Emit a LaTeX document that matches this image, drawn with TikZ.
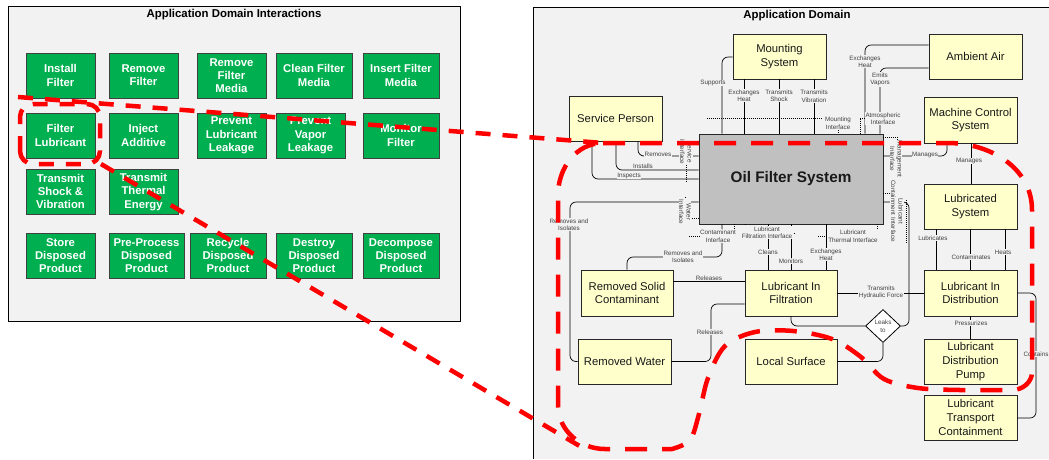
\documentclass[tikz,border=0pt]{standalone}
\usepackage{fontspec}
\setmainfont{Liberation Sans}
\usetikzlibrary{shapes.geometric}
\definecolor{panelbg}{HTML}{F2F2F2}
\definecolor{gfill}{HTML}{00B050}
\definecolor{yfill}{HTML}{FFFFCC}
\definecolor{ofsfill}{HTML}{C0C0C0}
\definecolor{lblgray}{HTML}{404040}
\begin{document}
\begin{tikzpicture}[x=1pt,y=-1pt,
  gbox/.style={draw=black!75, line width=0.9pt, fill=gfill, text=white, font=\fontsize{11.3}{13.3}\selectfont\bfseries, align=center, inner sep=0pt, minimum width=69pt, minimum height=45pt},
  ybox/.style={draw=black!85, line width=0.9pt, fill=yfill, text=black!90, font=\fontsize{11.3}{13.8}\selectfont, align=center, inner sep=0pt, minimum width=93pt, minimum height=45pt},
  conn/.style={draw=black, line width=0.7pt, rounded corners=6pt},
  dotl/.style={draw=black, line width=0.6pt, dash pattern=on 1pt off 1pt},
  lbl/.style={font=\fontsize{6.3}{7.5}\selectfont, text=lblgray, fill=panelbg, inner sep=0.5pt, align=center},
  rlbl/.style={lbl, rotate=-90},
  reddash/.style={draw=red, line width=4.5pt, dash pattern=on 15pt off 12pt},
  redloop/.style={draw=red, line width=4.5pt, dash pattern=on 22pt off 15pt},
  ttl/.style={font=\fontsize{11.4}{13}\selectfont\bfseries}
]
\useasboundingbox (0,0) rectangle (1049,459);
\fill[white] (0,0) rectangle (1049,459);
% left panel
\draw[black, line width=1pt, fill=panelbg] (8,6) rectangle (460,321);
\node[ttl] (t1) at (234,15) {Application Domain Interactions};
% right panel
\fill[panelbg] (533,7) rectangle (1049,459);
\draw[black, line width=1pt] (1049,7) -- (533,7) -- (533,459);
\node[ttl] (t2) at (797,16) {Application Domain};

% green boxes
\node[gbox] (g11) at (60.5,75.5) {Install\\Filter};
\node[gbox] (g12) at (143.5,75.5) {Remove\\Filter};
\node[gbox] (g13) at (231.5,75.5) {Remove\\Filter\\Media};
\node[gbox, minimum width=76pt] (g14) at (314,75.5) {Clean Filter\\Media};
\node[gbox, minimum width=76pt] (g15) at (401,75.5) {Insert Filter\\Media};
\node[gbox] (g21) at (60.5,135.5) {Filter\\Lubricant};
\node[gbox] (g22) at (143.5,135.5) {Inject\\Additive};
\node[gbox] (g23) at (231.5,135.5) {Prevent\\Lubricant\\Leakage};
\node[gbox] (g24) at (310.5,135.5) {Prevent\\Vapor\\Leakage};
\node[gbox, minimum width=76pt] (g25) at (401,135.5) {Monitor\\Filter};
\node[gbox] (g31) at (60.5,191.5) {Transmit\\Shock \&\\Vibration};
\node[gbox] (g32) at (143.5,192) {Transmit\\Thermal\\Energy};
\node[gbox] (g41) at (60.5,255.5) {Store\\Disposed\\Product};
\node[gbox, minimum width=75pt] (g42) at (146.5,255.5) {Pre-Process\\Disposed\\Product};
\node[gbox, minimum width=76pt] (g43) at (228,255.5) {Recycle\\Disposed\\Product};
\node[gbox, minimum width=76pt] (g44) at (314,255.5) {Destroy\\Disposed\\Product};
\node[gbox, minimum width=76pt] (g45) at (401,255.5) {Decompose\\Disposed\\Product};

% yellow boxes
\node[ybox] (MS) at (779.5,56.5) {Mounting\\System};
\node[ybox] (AA) at (975.5,56.5) {Ambient Air};
\node[ybox] (SP) at (615.5,118.5) {Service Person};
\node[ybox, minimum height=46pt] (MCS) at (970.5,120) {Machine Control\\System};
\node[draw=black!85, line width=0.9pt, fill=ofsfill, minimum width=184pt, minimum height=90pt, inner sep=0pt, font=\fontsize{15.3}{18}\selectfont\bfseries, text=black!90] (OFS) at (791,179) {Oil Filter System};
\node[ybox] (LS) at (970.5,206.5) {Lubricated\\System};
\node[ybox, minimum width=92pt, minimum height=46pt] (RSC) at (627,293) {Removed Solid\\Contaminant};
\node[ybox, minimum width=92pt, minimum height=46pt] (LIF) at (791,293) {Lubricant In\\Filtration};
\node[ybox, minimum height=46pt] (LID) at (970.5,293) {Lubricant In\\Distribution};
\node[ybox] (RW) at (624.5,361.5) {Removed Water};
\node[ybox, minimum width=92pt] (LSurf) at (791,361.5) {Local Surface};
\node[ybox] (LDP) at (970.5,361.5) {Lubricant\\Distribution\\Pump};
\node[ybox] (LTC) at (970.5,417.5) {Lubricant\\Transport\\Containment};
\node[diamond, draw=black, line width=0.8pt, fill=white, minimum width=35pt, minimum height=33pt, inner sep=0pt] (D) at (883,326) {};

% connectors
\draw[conn] (MS.west |- 0,57) -| (OFS.north -| 722,0);
\draw[conn] (MS.south -| 744,0) -- (OFS.north -| 744,0);
\draw[conn] (MS.south -| 779,0) -- (OFS.north -| 779,0);
\draw[conn] (MS.south -| 814,0) -- (OFS.north -| 814,0);
\draw[conn] (AA.west |- 0,45) -| (OFS.north -| 865,0);
\draw[conn] (AA.west |- 0,68) -| (OFS.north -| 880,0);
\draw[conn] (SP.south -| 638,0) |- (OFS.west |- 0,156);
\draw[conn] (SP.south -| 616,0) |- (OFS.west |- 0,170);
\draw[conn] (SP.south -| 592,0) |- (OFS.west |- 0,179);
\draw[conn] (MCS.south -| 947,0) |- (OFS.east |- 0,156);
\draw[conn] (MCS.south -| 971,0) -- (LS.north -| 971,0);
\draw[conn] (OFS.west |- 0,202) -| (RW.west -| 570,0) -- (RW.west);
\draw[conn] (OFS.south -| 722,0) -- (722,257) -- (627,257) -- (RSC.north);
\draw[conn] (OFS.south -| 768,0) -- (LIF.north -| 768,0);
\draw[conn] (OFS.south -| 791,0) -- (LIF.north);
\draw[conn] (OFS.south -| 826,0) -- (LIF.north -| 826,0);
\draw[conn] (RSC.east |- 0,281) -- (LIF.west |- 0,281);
\draw[conn] (LIF.west |- 0,304) -- (711,304) -- (711,361.5) -- (RW.east);
\draw[conn] (LIF.east) -- (LID.west);
\draw[conn] (LS.south -| 936,0) -- (LID.north -| 936,0);
\draw[conn] (LS.south) -- (LID.north);
\draw[conn] (LS.south -| 1005,0) -- (LID.north -| 1005,0);
\draw[conn] (LID.south) -- (LDP.north);
\draw[conn] (LID.east) -- (1036,293) -- (1036,418) -- (LTC.east |- 0,418);
\draw[conn] (OFS.east |- 0,202) -- (909,202) -- (909,326) -- (D.east);
\draw[conn] (D.west) -| (LIF.south);
\draw[conn] (D.south) |- (LSurf.east);

% dotted interfaces
\draw[dotl] (707,118) -- (823,118);
\draw[dotl] (838,128) -- (OFS.north -| 838,0);
\draw[dotl] (OFS.north -| 860,0) -- (860,118) -- (868,118);
\draw[dotl] (686,163) -- (686,182);
\draw[dotl] (685,197) -- (685,218) -- (OFS.west |- 0,218);
\draw[dotl] (OFS.south -| 734,0) -- (734,236) -- (689,236);
\draw[dotl] (OFS.south -| 745,0) -- (745,233) -- (796,233);
\draw[dotl] (OFS.south -| 877,0) -- (877,236) -- (817,236);
\draw[dotl] (OFS.east |- 0,137) -- (897,137) -- (897,142);
\draw[dotl] (OFS.east |- 0,193) -- (897,193);
\draw[dotl] (906,200) -- (906,243);

% labels
\node[lbl] at (713,83) {Supports};
\node[lbl] at (744,95.5) {Exchanges\\Heat};
\node[lbl] at (779,95.5) {Transmits\\Shock};
\node[lbl] at (814,96) {Transmits\\Vibration};
\node[lbl] at (838,123) {Mounting\\Interface};
\node[lbl] at (883,118.5) {Atmospheric\\Interface};
\node[lbl] at (865,61.5) {Exchanges\\Heat};
\node[lbl] at (880,79.5) {Emits\\Vapors};
\node[lbl] at (658,154) {Removes};
\node[lbl] at (643,166) {Installs};
\node[lbl] at (629,176) {Inspects};
\node[rlbl] at (686,152) {Service\\Interface};
\node[rlbl] at (685,212) {Water\\Interface};
\node[lbl] at (925,155) {Manages};
\node[lbl] at (969,161) {Manages};
\node[rlbl] at (896,159) {Management\\Interface};
\node[rlbl] at (897,211) {Lubricant\\Containment Interface};
\node[lbl] at (569,224.5) {Removes and\\Isolates};
\node[lbl] at (683,256.5) {Removes and\\Isolates};
\node[lbl] at (718,236) {Contaminant\\Interface};
\node[lbl] at (767,232.5) {Lubricant\\Filtration Interface};
\node[lbl] at (853,236) {Lubricant\\Thermal Interface};
\node[lbl] at (768,252) {Cleans};
\node[lbl] at (791,261) {Monitors};
\node[lbl] at (826,254.5) {Exchanges\\Heat};
\node[lbl] at (709,278) {Releases};
\node[lbl] at (710,332) {Releases};
\node[lbl] at (881,292.5) {Transmits\\Hydraulic Force};
\node[lbl] at (933,238) {Lubricates};
\node[lbl] at (971,257) {Contaminates};
\node[lbl] at (1003,252) {Heats};
\node[lbl] at (971,323) {Pressurizes};
\node[lbl] at (1036,354) {Contains};
\node[lbl, fill=none] at (D) {Leaks\\to};

% red highlight
\draw[reddash, rounded corners=13pt] (20,164) rectangle (100,104);
\draw[reddash] (18,97) -- (603,143);
\draw[reddash] (101,164) -- (583,448);
\draw[redloop] (603,143) -- (948,143) to[out=0,in=90] (1032,210) -- (1032,372) to[out=-90,in=0] (1012,390)
  -- plot[smooth, tension=0.55] coordinates {(1000,390) (960,390) (918,388) (884,379) (861,357) (832,339) (793,331) (755,332) (725,346) (708,378) (699,414) (690,440) (672,449)}
  -- (605,449) to[out=180,in=-90] (558,405) -- (558,195) to[out=90,in=180] (603,143);
\end{tikzpicture}
\end{document}
